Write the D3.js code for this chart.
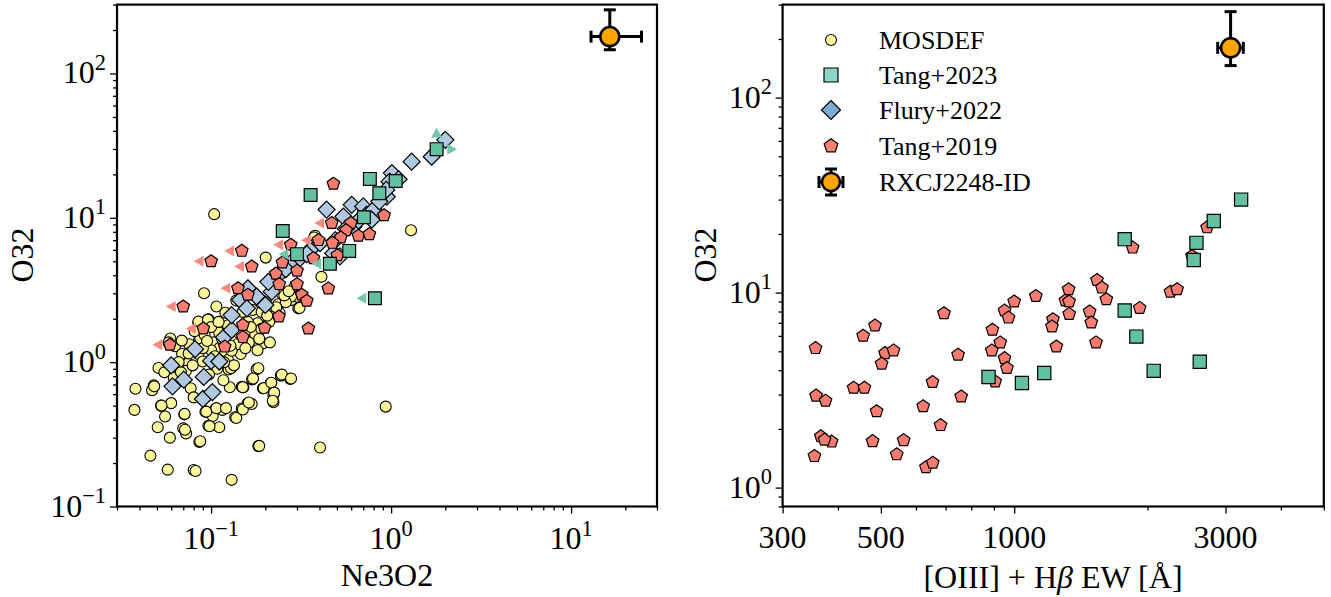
<!DOCTYPE html>
<html><head><meta charset="utf-8">
<script src="https://cdn.jsdelivr.net/npm/d3@7"></script>
<style>body{margin:0;background:#fff}svg{display:block}</style>
</head><body><svg id="c" width="1331" height="597"></svg>
<script>
// ---------------- DATA ----------------
const mosdef = [
[0.038,0.655],[0.0375,0.467],[0.048,0.69],[0.047,0.64],[0.051,0.91],[0.0527,0.50],[0.0555,0.42],[0.0505,0.354],[0.059,0.30],[0.046,0.225],[0.0574,0.18],[0.071,0.435],[0.070,0.348],[0.0726,0.321],[0.086,0.28],[0.080,0.179],[0.082,0.176],[0.093,0.454],[0.106,0.476],[0.1156,0.467],[0.102,0.424],[0.0966,0.363],[0.111,0.354],[0.130,0.153],[0.136,0.415],[0.148,0.478],[0.1596,0.519],[0.168,0.513],[0.148,0.676],[0.169,0.76],[0.179,0.893],[0.194,0.659],[0.214,0.714],[0.222,0.593],[0.222,0.527],[0.244,0.807],[0.275,0.766],[0.183,0.262],[0.403,0.256],[0.933,0.492],[0.125,0.89],[0.151,0.67],
[0.0914,3.0],[0.107,2.43],[0.085,1.88],[0.0966,1.98],[0.059,1.43],[0.086,1.44],[0.195,1.35],[0.305,2.36],[0.28,2.70],
[0.104,10.6],[1.29,8.2],[0.201,5.3],[0.41,3.9],[0.31,2.37],[0.30,2.84],[0.378,7.5],
[0.0483,0.68],[0.06,0.52],[0.053,0.50],[0.0594,1.46],[0.0712,0.438],[0.0716,0.34],[0.087,0.283],[0.094,0.454],[0.107,0.48],[0.098,0.36],[0.121,0.48],[0.127,0.67],[0.138,0.41],[0.15,0.47],[0.162,0.525],[0.183,0.907],[0.171,0.77],[0.15,0.67],[0.196,0.66],[0.216,0.72],[0.224,0.615],[0.22,0.54],[0.247,0.82],[0.278,0.77],[0.185,0.263],[0.129,0.907],
[0.058,1.37],[0.063,1.29],[0.069,1.14],[0.0743,0.98],[0.065,0.92],[0.0724,0.87],[0.077,0.66],[0.08,0.57],[0.085,1.14],[0.087,1.46],[0.085,1.91],[0.096,1.97],[0.092,1.55],[0.103,1.37],[0.111,1.25],[0.119,1.14],[0.108,0.90],[0.117,0.75],[0.134,1.46],[0.146,1.14],[0.140,1.33],[0.158,1.65],[0.176,1.55],[0.181,1.86],[0.17,2.30],[0.191,2.23],[0.201,2.6],[0.224,2.10],[0.236,2.52],[0.247,2.97],[0.278,2.84],[0.293,3.4],[0.138,2.67],[0.15,2.23],[0.124,1.8],[0.111,1.6],[0.1,1.75],[0.081,1.64],[0.0756,1.33],[0.1,1.21],[0.0898,1.01],[0.0973,0.82],[0.124,1.04],[0.134,0.95],[0.212,1.37],[0.181,1.21],[0.162,1.37],[0.0687,1.41],[0.373,7.3],
[0.055,0.85],[0.066,1.0],[0.079,0.95],[0.09,1.25],[0.115,1.45],[0.13,1.2],[0.16,1.9],[0.19,1.7],[0.21,1.9],[0.24,2.2],[0.26,2.6],[0.12,2.2],
[0.105,1.1],[0.118,1.0],[0.128,1.3],[0.142,1.6],[0.155,1.25],[0.166,1.75],[0.185,1.45],[0.205,2.1],[0.23,2.4],[0.255,2.9],[0.27,3.1],[0.11,1.9],[0.095,1.4],[0.075,1.15],[0.062,0.78],[0.068,0.85]
];
const flury = [
[0.06,0.95],[0.061,0.68],[0.0705,0.756],[0.0815,1.23],[0.091,0.79],[0.09,0.556],[0.1016,0.62],[0.1,1.02],[0.111,1.01],[0.118,1.49],[0.13,1.67],[0.13,2.12],[0.145,2.7],[0.158,2.36],[0.16,3.25],[0.179,2.85],[0.2,2.49],[0.217,3.08],[0.208,3.6],[0.242,4.13],[0.275,4.84],[0.312,5.25],[0.37,6.3],[0.403,6.67],[0.438,11.4],[0.477,5.68],[0.52,5.4],[0.617,8.7],[0.604,12.3],[0.70,12.0],[0.73,10.5],[0.80,11.4],[0.946,14.0],[1.01,20.4],[0.98,17.8],[1.3,24.5],[1.68,26.5],[2.0,34.7],[0.543,10.2],[0.49,7.0],[0.94,15.6],[0.78,9.7],[0.26,4.4],[0.34,5.6],[0.56,8.4],[0.66,9.6],[0.86,13.0],[1.1,18.5]
];
// [Ne3O2, O32, upper limit on Ne3O2]
const tang19Left = [
[0.478,17.2,0],[0.914,10.4,0],[0.468,9.2,1],[0.597,9.2,0],[0.562,8.2,0],[0.658,7.5,0],[0.757,7.7,0],[0.525,7.3,0],[0.472,6.7,0],[0.395,7.0,1],[0.277,6.5,1],[0.148,5.9,1],[0.10,5.0,1],[0.168,4.6,1],[0.249,4.9,0],[0.30,4.3,0],[0.37,5.25,0],[0.503,5.5,0],[0.229,4.1,0],[0.239,3.47,0],[0.30,3.47,0],[0.141,3.25,1],[0.16,2.93,0],[0.319,2.93,0],[0.34,2.66,0],[0.448,3.24,0],[0.070,2.43,1],[0.0905,1.71,1],[0.347,1.71,0],[0.238,2.07,0],[0.15,1.81,0],[0.198,1.73,0],[0.15,1.49,0],[0.059,1.32,1],[0.119,1.28,0]
];
// [Ne3O2, O32, upper limit x, lower limit y, lower limit x]
const tang23Left = [
[0.762,18.6,0,0,0],[1.06,18.0,0,0,0],[0.86,14.8,0,0,0],[0.357,14.4,0,0,0],[1.79,29.9,0,1,1],[0.706,10.1,0,0,0],[0.25,8.1,0,0,0],[0.30,5.6,1,0,0],[0.585,5.9,0,0,0],[0.457,4.8,1,0,0],[0.813,2.77,1,0,0]
];
// [EW, O32]
const tang19Right = [
[356,5.19],[357,2.96],[375,2.79],[366,1.83],[387,1.72],[373,1.76],[354,1.45],[456,6.0],[485,6.78],[511,4.89],[534,5.05],[502,4.32],[434,3.25],[459,3.25],[489,2.46],[479,1.73],[543,1.48],[563,1.75],[632,1.27],[655,1.34],[623,2.61],[654,3.48],[682,2.09],[694,7.83],[747,4.80],[759,2.93],[893,6.44],[930,5.55],[890,5.05],[951,4.61],[963,4.10],[906,3.50],[951,8.08],[971,7.44],[1000,8.99],[1119,9.6],[1223,7.30],[1217,6.70],[1245,5.29],[1327,10.4],[1305,9.1],[1330,9.0],[1331,7.77],[1538,11.6],[1578,10.6],[1614,9.24],[1480,7.99],[1493,7.02],[1530,5.55],[1920,8.34],[1851,17.0],[2253,10.1],[2332,10.4],[2520,15.4],[2726,21.6]
];
const tang23Right = [
[875,3.69],[1041,3.44],[1169,3.87],[1776,18.8],[1776,8.09],[1887,5.95],[2065,3.97],[2624,4.42],[2543,14.7],[2579,18.0],[2822,23.3],[3253,30.0]
];
// RXCJ2248-ID: value, lower, upper
const rxcjNe3O2 = [16.4, 12.9, 24.6];
const rxcjO32 = [180, 146, 276];
const rxcjEW = [3080, 2880, 3290];
const legendLabels = ["MOSDEF","Tang+2023","Flury+2022","Tang+2019","RXCJ2248-ID"];
const leftXTicks = [0.1, 1, 10];
const leftYTicks = [0.1, 1, 10, 100];
const rightXTicks = [300, 500, 1000, 3000];
const rightYTicks = [1, 10, 100];

// ---------------- STYLE ----------------
const FONT = "'Liberation Serif', 'DejaVu Serif', serif";
const C = {
  mos: "#fbf89c", flury: "#b0c9e1", t19: "#f97c70", t23: "#63c0a0",
  t19arrow: "#f98a7f", t23arrow: "#73c7aa",
  legMos: "#ffffa0", legT23: "#8dd3c7", legFlury: "#7faad1", legT19: "#fb8072", orange: "#ffa500"
};
const svg = d3.select("#c");

const xL = d3.scaleLog().domain([0.03, 30]).range([117, 657]);
const yL = d3.scaleLog().domain([0.1, 300]).range([506.5, 4.6]);
const xR = d3.scaleLog().domain([300, 5000]).range([782.6, 1323.8]);
const yR = d3.scaleLog().domain([0.8, 300]).range([506.5, 4.6]);

function minorTicks(dom) {
  const out = [];
  const lo = Math.floor(Math.log10(dom[0])), hi = Math.ceil(Math.log10(dom[1]));
  for (let e = lo; e <= hi; e++) for (let m = 1; m <= 9; m++) {
    const v = m * Math.pow(10, e);
    if (v >= dom[0] * 0.999 && v <= dom[1] * 1.001) out.push(v);
  }
  return out;
}

function pentPath(r) {
  const p = d3.path();
  for (let k = 0; k < 5; k++) {
    const a = -Math.PI / 2 + k * 2 * Math.PI / 5;
    const px = r * Math.cos(a), py = r * Math.sin(a);
    if (k === 0) p.moveTo(px, py); else p.lineTo(px, py);
  }
  p.closePath(); return p.toString();
}
function diamondPath(h) { return `M0,${-h}L${h},0L0,${h}L${-h},0Z`; }
function squarePath(h) { return `M${-h},${-h}H${h}V${h}H${-h}Z`; }
function triPath(dir, s) {
  if (dir === "left") return `M${-s},0L${s*0.8},${-s}L${s*0.8},${s}Z`;
  if (dir === "right") return `M${s},0L${-s*0.8},${-s}L${-s*0.8},${s}Z`;
  return `M0,${-s}L${-s},${s*0.8}L${s},${s*0.8}Z`;
}

function supText(g, x, y, base, exp, anchor, size) {
  const t = g.append("text").attr("x", x).attr("y", y).attr("text-anchor", anchor)
    .attr("font-family", FONT).attr("font-size", size).attr("fill", "#000");
  t.append("tspan").text(base);
  t.append("tspan").attr("dy", -size * 0.42).attr("font-size", size * 0.7).text(exp);
  return t;
}
const expStr = v => { const e = Math.round(Math.log10(v)); return e < 0 ? "\u2212" + (-e) : String(e); };

function drawAxes(x, y, xMajor, yMajor, xLabelFn, yLabelFn) {
  const g = svg.append("g");
  const [x0, x1] = x.range(), [y0, y1] = y.range();
  const xmin = minorTicks(x.domain()).filter(v => !xMajor.includes(v));
  const ymin = minorTicks(y.domain()).filter(v => !yMajor.includes(v));
  const ax1 = g.append("g").attr("transform", `translate(0,${y0})`)
    .call(d3.axisBottom(x).tickValues(xmin).tickSize(4).tickFormat(""));
  const ax2 = g.append("g").attr("transform", `translate(0,${y0})`)
    .call(d3.axisBottom(x).tickValues(xMajor).tickSize(7).tickFormat(""));
  const ay1 = g.append("g").attr("transform", `translate(${x0},0)`)
    .call(d3.axisLeft(y).tickValues(ymin).tickSize(4).tickFormat(""));
  const ay2 = g.append("g").attr("transform", `translate(${x0},0)`)
    .call(d3.axisLeft(y).tickValues(yMajor).tickSize(7).tickFormat(""));
  [ax1, ax2, ay1, ay2].forEach(a => {
    a.select(".domain").remove();
    a.selectAll("line").attr("stroke", "#000").attr("stroke-width", 1.3);
  });
  xMajor.forEach(v => xLabelFn(g, x(v), v));
  yMajor.forEach(v => yLabelFn(g, y(v), v));
  svg.append("rect").attr("x", x0).attr("y", y1).attr("width", x1 - x0).attr("height", y0 - y1)
    .attr("fill", "none").attr("stroke", "#000").attr("stroke-width", 2.2);
}

function marker(g, path, data, xs, ys, fill, sw) {
  g.selectAll(null).data(data).enter().append("path")
    .attr("d", path).attr("transform", d => `translate(${xs(d[0])},${ys(d[1])})`)
    .attr("fill", fill).attr("stroke", "#000").attr("stroke-width", sw || 1.2);
}

function errPoint(g, cx, cy, xl, xh, yl, yh, r) {
  const e = g.append("g").attr("stroke", "#000").attr("stroke-width", 3);
  e.append("line").attr("x1", xl).attr("x2", xh).attr("y1", cy).attr("y2", cy);
  e.append("line").attr("x1", cx).attr("x2", cx).attr("y1", yl).attr("y2", yh);
  e.append("line").attr("x1", xl).attr("x2", xl).attr("y1", cy - 6).attr("y2", cy + 6);
  e.append("line").attr("x1", xh).attr("x2", xh).attr("y1", cy - 6).attr("y2", cy + 6);
  e.append("line").attr("x1", cx - 6).attr("x2", cx + 6).attr("y1", yl).attr("y2", yl);
  e.append("line").attr("x1", cx - 6).attr("x2", cx + 6).attr("y1", yh).attr("y2", yh);
  g.append("circle").attr("cx", cx).attr("cy", cy).attr("r", r)
    .attr("fill", C.orange).attr("stroke", "#000").attr("stroke-width", 2.5);
}

// ---------------- LEFT PANEL ----------------
drawAxes(xL, yL, leftXTicks, leftYTicks,
  (g, px, v) => supText(g, px, 549, "10", expStr(v), "middle", 32),
  (g, py, v) => supText(g, 106, py + 10, "10", expStr(v), "end", 32));
svg.append("text").attr("x", 387).attr("y", 586).attr("text-anchor", "middle")
  .attr("font-family", FONT).attr("font-size", 32).text("Ne3O2");
svg.append("text").attr("transform", "translate(33,255) rotate(-90)").attr("text-anchor", "middle")
  .attr("font-family", FONT).attr("font-size", 32).text("O32");

const gL = svg.append("g");
gL.selectAll(null).data(mosdef).enter().append("circle")
  .attr("cx", d => xL(d[0])).attr("cy", d => yL(d[1])).attr("r", 5.5)
  .attr("fill", C.mos).attr("stroke", "#000").attr("stroke-width", 1.1);
marker(gL, diamondPath(8.5), flury, xL, yL, C.flury);
gL.selectAll(null).data(tang19Left.filter(d => d[2])).enter().append("path")
  .attr("d", triPath("left", 5.5)).attr("transform", d => `translate(${xL(d[0]) - 12},${yL(d[1])})`)
  .attr("fill", C.t19arrow);
marker(gL, pentPath(6.6), tang19Left, xL, yL, C.t19);
gL.selectAll(null).data(tang23Left.filter(d => d[2])).enter().append("path")
  .attr("d", triPath("left", 5.5)).attr("transform", d => `translate(${xL(d[0]) - 13},${yL(d[1])})`)
  .attr("fill", C.t23arrow);
gL.selectAll(null).data(tang23Left.filter(d => d[3])).enter().append("path")
  .attr("d", triPath("up", 5.5)).attr("transform", d => `translate(${xL(d[0])},${yL(d[1]) - 16})`)
  .attr("fill", C.t23arrow);
gL.selectAll(null).data(tang23Left.filter(d => d[4])).enter().append("path")
  .attr("d", triPath("right", 5.5)).attr("transform", d => `translate(${xL(d[0]) + 15},${yL(d[1])})`)
  .attr("fill", C.t23arrow);
marker(gL, squarePath(6.4), tang23Left, xL, yL, C.t23);
errPoint(gL, xL(rxcjNe3O2[0]), yL(rxcjO32[0]), xL(rxcjNe3O2[1]), xL(rxcjNe3O2[2]), yL(rxcjO32[1]), yL(rxcjO32[2]), 9.5);

// ---------------- RIGHT PANEL ----------------
drawAxes(xR, yR, rightXTicks, rightYTicks,
  (g, px, v) => g.append("text").attr("x", px).attr("y", 548).attr("text-anchor", "middle")
      .attr("font-family", FONT).attr("font-size", 32).text(String(v)),
  (g, py, v) => supText(g, 772, py + 10, "10", expStr(v), "end", 32));
const xlab = svg.append("text").attr("x", 1053).attr("y", 588).attr("text-anchor", "middle")
  .attr("font-family", FONT).attr("font-size", 32);
xlab.append("tspan").text("[OIII] + H");
xlab.append("tspan").attr("font-style", "italic").text("\u03b2");
xlab.append("tspan").text(" EW [\u00c5]");
svg.append("text").attr("transform", "translate(716,255) rotate(-90)").attr("text-anchor", "middle")
  .attr("font-family", FONT).attr("font-size", 32).text("O32");

const gR = svg.append("g");
marker(gR, pentPath(6.6), tang19Right, xR, yR, C.t19);
marker(gR, squarePath(6.6), tang23Right, xR, yR, C.t23);
errPoint(gR, xR(rxcjEW[0]), yR(rxcjO32[0]), xR(rxcjEW[1]), xR(rxcjEW[2]), yR(rxcjO32[1]), yR(rxcjO32[2]), 9.5);

// ---------------- LEGEND ----------------
const legY = [40, 75, 110, 146, 182], legMX = 831, legTX = 879;
const lg = svg.append("g");
lg.append("circle").attr("cx", legMX).attr("cy", legY[0]).attr("r", 5.5).attr("fill", C.legMos).attr("stroke", "#000").attr("stroke-width", 1.1);
lg.append("path").attr("d", squarePath(7)).attr("transform", `translate(${legMX},${legY[1]})`).attr("fill", C.legT23).attr("stroke", "#000").attr("stroke-width", 1.2);
lg.append("path").attr("d", diamondPath(9.5)).attr("transform", `translate(${legMX},${legY[2]})`).attr("fill", C.legFlury).attr("stroke", "#000").attr("stroke-width", 1.2);
lg.append("path").attr("d", pentPath(7.2)).attr("transform", `translate(${legMX},${legY[3]})`).attr("fill", C.legT19).attr("stroke", "#000").attr("stroke-width", 1.2);
errPoint(lg, legMX, legY[4], legMX - 12, legMX + 12, legY[4] - 13, legY[4] + 13, 9);
legendLabels.forEach((t, i) => lg.append("text").attr("x", legTX).attr("y", legY[i] + 9)
  .attr("font-family", FONT).attr("font-size", 26).text(t));
</script></body></html>
